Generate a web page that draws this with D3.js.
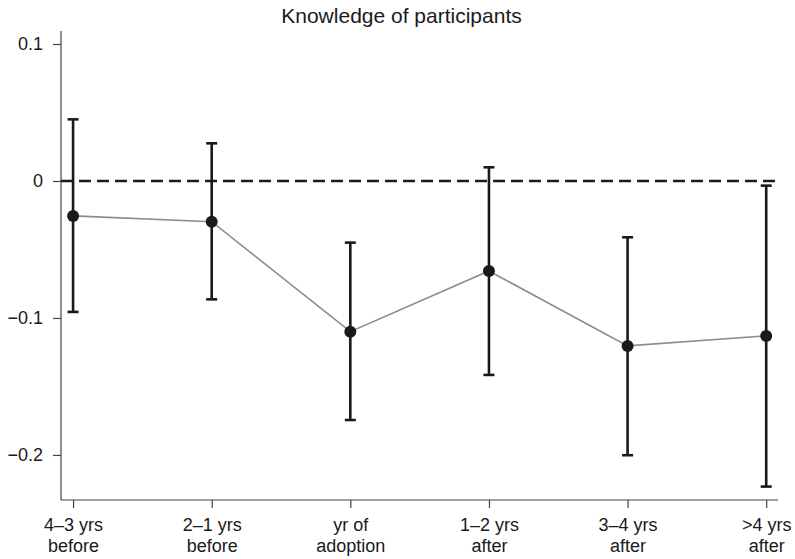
<!DOCTYPE html>
<html><head><meta charset="utf-8">
<script src="https://cdn.jsdelivr.net/npm/d3@7"></script>
<style>body{margin:0;background:#fff}svg{display:block}</style>
</head><body>
<script>
const categories = ["4\u20133 yrs|before","2\u20131 yrs|before","yr of|adoption","1\u20132 yrs|after","3\u20134 yrs|after",">4 yrs|after"];
const estimates = [-0.0255,-0.0297,-0.110,-0.0657,-0.1204,-0.1131];
const ciLow = [-0.0956,-0.0864,-0.1745,-0.1416,-0.2002,-0.2231];
const ciHigh = [0.045,0.0275,-0.045,0.010,-0.0411,-0.0034];
const yTicks = [0.1,0,-0.1,-0.2];
const yTickLabels = ["0.1","0","\u22120.1","\u22120.2"];
const title = "Knowledge of participants";

const W=795,H=559;
const svg=d3.select("body").append("svg").attr("width",W).attr("height",H);
const font="'Liberation Sans', Arial, Helvetica, sans-serif";

const idx=d3.range(categories.length);
const x=d3.scaleLinear().domain([-0.087,5.085]).range([61,778]);
const y=d3.scaleLinear().domain([-0.2329,0.1095]).range([500,31]);

// title
svg.append("text").attr("x",401.5).attr("y",23).attr("text-anchor","middle")
  .attr("font-family",font).attr("font-size",21).attr("fill","#1a1a1a").text(title);

// y axis
const yAxis=d3.axisLeft(y).tickValues(yTicks).tickSize(8).tickPadding(10)
  .tickFormat((d,i)=>yTickLabels[i]);
const gy=svg.append("g").attr("transform","translate(61,0)").call(yAxis);
gy.select(".domain").attr("stroke","#444").attr("stroke-width",1.2).attr("d",`M0,${y.range()[1]}V${y.range()[0]}`);
gy.selectAll(".tick line").attr("stroke","#444").attr("stroke-width",1.2);
gy.selectAll(".tick text").attr("font-family",font).attr("font-size",18).attr("fill","#1a1a1a");

// x axis
const xAxis=d3.axisBottom(x).tickValues(idx).tickSize(8).tickFormat("");
const gx=svg.append("g").attr("transform","translate(0,500)").call(xAxis);
gx.select(".domain").attr("stroke","#444").attr("stroke-width",1.2).attr("d",`M${x.range()[0]},0H${x.range()[1]}`);
gx.selectAll(".tick line").attr("stroke","#444").attr("stroke-width",1.2);
gx.selectAll(".tick").each(function(d){
  const parts=categories[d].split("|");
  const t=d3.select(this).append("text").attr("text-anchor","middle")
    .attr("font-family",font).attr("font-size",18).attr("fill","#1a1a1a");
  t.append("tspan").attr("x",0).attr("y",31).text(parts[0]);
  t.append("tspan").attr("x",0).attr("y",52).text(parts[1]);
});

// zero reference line
svg.append("line").attr("x1",x.range()[0]).attr("x2",x.range()[1])
  .attr("y1",y(0)).attr("y2",y(0)).attr("stroke","#1a1a1a").attr("stroke-width",2.4)
  .attr("stroke-dasharray","12,6");

// connecting line
svg.append("path").datum(idx).attr("fill","none").attr("stroke","#8c8c8c").attr("stroke-width",1.6)
  .attr("d",d3.line().x(i=>x(i)).y(i=>y(estimates[i])));

// error bars
const eb=svg.append("g").attr("stroke","#1a1a1a").attr("stroke-width",2.6);
eb.selectAll(".v").data(idx).join("line")
  .attr("x1",i=>x(i)).attr("x2",i=>x(i)).attr("y1",i=>y(ciLow[i])).attr("y2",i=>y(ciHigh[i]));
eb.selectAll(".t").data(idx).join("line")
  .attr("x1",i=>x(i)-5.5).attr("x2",i=>x(i)+5.5).attr("y1",i=>y(ciHigh[i])).attr("y2",i=>y(ciHigh[i]));
eb.selectAll(".b").data(idx).join("line")
  .attr("x1",i=>x(i)-5.5).attr("x2",i=>x(i)+5.5).attr("y1",i=>y(ciLow[i])).attr("y2",i=>y(ciLow[i]));

// points
svg.append("g").selectAll("circle").data(idx).join("circle")
  .attr("cx",i=>x(i)).attr("cy",i=>y(estimates[i])).attr("r",6).attr("fill","#1a1a1a");
</script>
</body></html>
